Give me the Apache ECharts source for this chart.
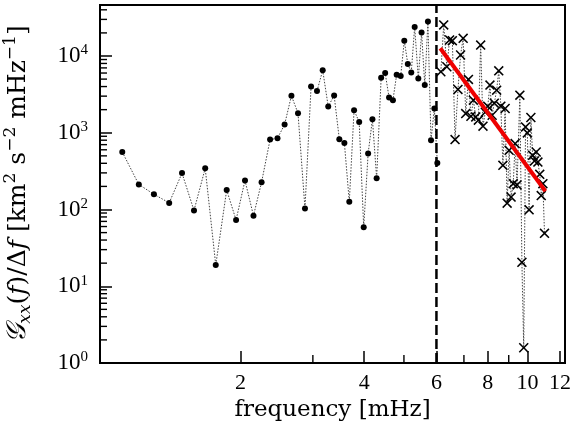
<!DOCTYPE html>
<html>
<head>
<meta charset="utf-8">
<script src="https://cdn.jsdelivr.net/npm/echarts@6/dist/echarts.min.js"></script>
<style>html,body{margin:0;padding:0;background:#fff}#c{width:573px;height:438px}</style>
</head>
<body>
<div id="c"></div>
<script>
// ---- data (frequency in mHz, power per bin) ----
const dotFreq = [1.03,1.13,1.23,1.34,1.44,1.54,1.64,1.74,1.85,1.95,2.05,2.15,2.25,2.36,2.46,2.56,2.66,2.76,2.87,2.97,3.07,3.17,3.27,3.38,3.48,3.58,3.68,3.78,3.89,3.99,4.09,4.19,4.29,4.40,4.50,4.60,4.70,4.80,4.91,5.01,5.11,5.21,5.31,5.42,5.52,5.62,5.72,5.82,5.93,6.03];
const dotPower = [561,212,158,122,298,97,344,18.9,179,73,239,83,227,815,848,1280,3030,1800,103,4020,3490,6500,2200,3060,822,736,126,1970,1380,58.7,535,1500,256,5200,6000,2880,2660,5700,5480,15850,7860,6120,23900,5110,20170,4180,28100,798,2070,403];
const crossFreq = [6.15,6.25,6.36,6.46,6.56,6.66,6.77,6.87,6.97,7.07,7.18,7.28,7.38,7.48,7.59,7.69,7.79,7.89,8.00,8.10,8.20,8.30,8.41,8.51,8.61,8.71,8.82,8.92,9.02,9.12,9.23,9.33,9.43,9.58,9.69,9.79,9.89,9.99,10.09,10.19,10.29,10.40,10.50,10.60,10.71,10.80,10.90,11.00];
const crossPower = [6240,25400,7250,16200,15850,815,3670,10300,17000,1780,4960,1640,2660,1610,1460,13900,1220,1850,2220,4180,1690,2430,3590,6420,2220,376,2070,121,590,145,217,722,209,3090,20.5,1.58,1190,994,99,1580,508,430,561,415,287,152,217,49];
const fitFreq = [6.13, 11.06];
const fitPower = [12600, 173];
const cutFreq = 6.0;
const xRange = [0.909, 12.34];
const yRange = [1, 46200];
const xMajorTicks = [2,4,6,8,10,12];
const xMinorTicks = [3,5,7,9];
const yMajorTicks = [1,10,100,1000,10000];
const yMinorTicks = [];
for (const d of [1,10,100,1000,10000]) for (let k=2;k<=9;k++) if (k*d<=yRange[1]) yMinorTicks.push(k*d);

// log scales: x measured in decades above the left limit, y in decades above the bottom limit
const X = f => Math.log10(f / xRange[0]);
const Y = v => Math.log10(v / yRange[0]);
const invX = u => xRange[0] * Math.pow(10, u);
const invY = u => yRange[0] * Math.pow(10, u);
const pts = (xs, ys) => xs.map((x,i)=>[X(x), Y(ys[i])]);
const serif = 'Liberation Serif';
const titleFont = 'DejaVu Serif';

const chart = echarts.init(document.getElementById('c'));
const xMin = X(xRange[0]), xMax = X(xRange[1]), yMin = Y(yRange[0]), yMax = Y(yRange[1]);
const crossPath = 'path://M0,1.1L1.1,0L5,3.9L8.9,0L10,1.1L6.1,5L10,8.9L8.9,10L5,6.1L1.1,10L0,8.9L3.9,5Z';

chart.setOption({
  animation:false,
  backgroundColor:'#fff',
  grid:{left:100,right:8,top:5,bottom:75,show:true,borderColor:'#000',borderWidth:2,containLabel:false,outerBoundsMode:'none'},
  xAxis:{
    type:'value',min:xMin,max:xMax,position:'bottom',
    axisLine:{show:true,onZero:false,lineStyle:{color:'#000',width:2}},
    axisTick:{show:true,inside:true,length:12,lineStyle:{color:'#000',width:1.5},customValues:xMajorTicks.map(X)},
    axisLabel:{show:true,customValues:xMajorTicks.map(X),formatter:v=>String(Math.round(invX(v))),fontFamily:serif,fontSize:22,color:'#000',margin:9},
    splitLine:{show:false},
    name:'frequency [mHz]',nameLocation:'middle',nameGap:35,
    nameTextStyle:{fontFamily:titleFont,fontSize:23,color:'#000'}
  },
  yAxis:{
    type:'value',min:yMin,max:yMax,position:'left',
    axisLine:{show:true,onZero:false,lineStyle:{color:'#000',width:2}},
    axisTick:{show:true,inside:true,length:12,lineStyle:{color:'#000',width:1.5},customValues:yMajorTicks.map(Y)},
    axisLabel:{show:true,customValues:yMajorTicks.map(Y),
      formatter:v=>'{b|10}{s|'+Math.round(Math.log10(invY(v)))+'}',margin:12,
      rich:{b:{fontFamily:serif,fontSize:23,color:'#000',lineHeight:26},s:{fontFamily:serif,fontSize:15,color:'#000',verticalAlign:'top',lineHeight:26}}},
    splitLine:{show:false},
    name:'{g|𝒢}{sub|xx}{n|(}{i|f}{n|)/Δ}{i|f}{n| [km}{sup|2}{n| s}{sup|−2}{n| mHz}{sup|−1}{n|]}',
    nameLocation:'middle',nameGap:66,
    nameTextStyle:{rich:{
      g:{fontFamily:titleFont,fontSize:27,color:'#000',fontStyle:'italic',lineHeight:32},
      n:{fontFamily:titleFont,fontSize:25,color:'#000',lineHeight:32},
      i:{fontFamily:titleFont,fontSize:25,color:'#000',fontStyle:'italic',lineHeight:32},
      sub:{fontFamily:titleFont,fontSize:17,color:'#000',fontStyle:'italic',verticalAlign:'bottom',lineHeight:32},
      sup:{fontFamily:titleFont,fontSize:17,color:'#000',verticalAlign:'top',lineHeight:32}
    }}
  },
  series:[{
    type:'line',data:pts(dotFreq,dotPower),symbol:'circle',symbolSize:6,
    itemStyle:{color:'#000'},lineStyle:{color:'#444',width:1,type:[1.5,1.5]},z:2
  },{
    type:'line',data:pts(crossFreq,crossPower),symbol:crossPath,symbolSize:10,
    itemStyle:{color:'#000'},lineStyle:{color:'#444',width:1,type:[1.5,1.5]},z:2
  },{
    type:'line',data:[[X(cutFreq),yMin],[X(cutFreq),yMax]],symbol:'none',
    lineStyle:{color:'#000',width:2.5,type:[10,4]},z:3
  },{
    type:'line',data:pts(fitFreq,fitPower),symbol:'none',
    lineStyle:{color:'#ee0000',width:4},z:4
  }]
});

// minor log ticks: positions obtained from the chart's own axis scales
const minorEls = [];
yMinorTicks.forEach(v => {
  const p = chart.convertToPixel({gridIndex:0}, [xMin, Y(v)]);
  if (p) minorEls.push({type:'line', z:100, silent:true,
    shape:{x1:p[0], y1:p[1], x2:p[0]+7, y2:p[1]}, style:{stroke:'#000', lineWidth:1.4}});
});
xMinorTicks.forEach(v => {
  const p = chart.convertToPixel({gridIndex:0}, [X(v), yMin]);
  if (p) minorEls.push({type:'line', z:100, silent:true,
    shape:{x1:p[0], y1:p[1], x2:p[0], y2:p[1]-8}, style:{stroke:'#000', lineWidth:1.4}});
});
chart.setOption({graphic:{elements:minorEls}});
</script>
</body>
</html>
